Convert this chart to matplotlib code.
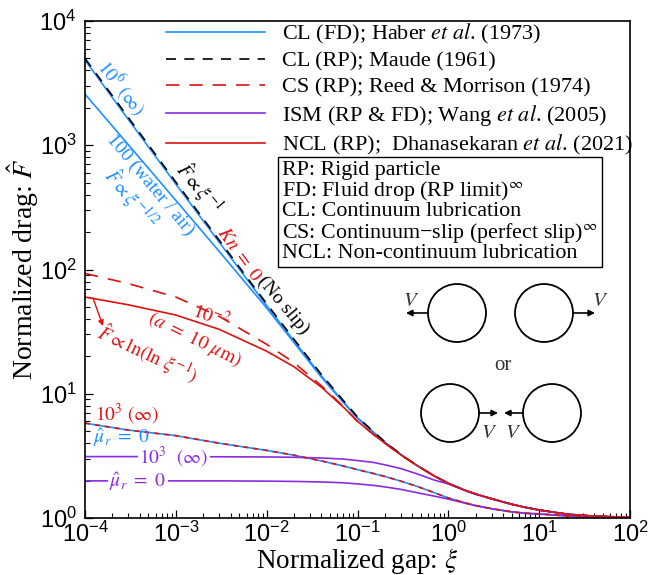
import matplotlib
matplotlib.use('Agg')
import matplotlib.pyplot as plt
from matplotlib.patches import Circle
from matplotlib.lines import Line2D

plt.rcParams['font.family'] = 'Liberation Sans'
plt.rcParams['mathtext.fontset'] = 'stix'

# gap values (normalized) shared by all curves
xi = [1e-4, 3e-4, 1e-3, 3e-3, 1e-2, 2e-2, 4e-2, 0.07, 0.1, 0.15, 0.2, 0.3,
      0.45, 0.7, 1, 1.5, 2, 3, 5, 7, 10, 20, 40, 100]

# CL (RP), Maude (1961)
f_cl_rp = [5000, 1670, 505, 172, 53, 27.4, 14.3, 8.8, 6.5, 4.95, 4.1, 3.25,
           2.65, 2.18, 1.9, 1.68, 1.56, 1.43, 1.29, 1.22, 1.16, 1.075, 1.035, 1.012]
# CL (FD), Haber et al. (1973): mu_r = 1e6, 100, 0
f_fd_1e6 = [4850, 1610, 487, 166, 51.2, 26.6, 13.9, 8.6, 6.4, 4.9, 4.08, 3.25,
            2.65, 2.18, 1.9, 1.68, 1.56, 1.43, 1.29, 1.22, 1.16, 1.075, 1.035, 1.012]
f_fd_100 = [2580, 1010, 360, 140, 49, 25.8, 13.6, 8.5, 6.35, 4.88, 4.07, 3.24,
            2.65, 2.18, 1.9, 1.68, 1.56, 1.43, 1.29, 1.22, 1.16, 1.075, 1.035, 1.012]
f_fd_0 = [5.8, 5.1, 4.6, 4.0, 3.5, 3.2, 2.88, 2.62, 2.45, 2.28, 2.16, 1.98,
          1.8, 1.6, 1.45, 1.33, 1.26, 1.19, 1.12, 1.095, 1.08, 1.04, 1.02, 1.005]
# CS (RP), Reed & Morrison (1974)
f_cs = [93, 77, 60, 42, 25, 17.8, 11.6, 7.9, 6.0, 4.7, 4.0, 3.22,
        2.65, 2.18, 1.9, 1.68, 1.56, 1.43, 1.29, 1.22, 1.16, 1.075, 1.035, 1.012]
# ISM (RP & FD), Wang et al. (2005): mu_r = 1e3, 0
f_ism_1e3 = [3.12, 3.12, 3.12, 3.11, 3.10, 3.08, 3.04, 2.98, 2.90, 2.8, 2.68, 2.5,
             2.27, 2.02, 1.88, 1.67, 1.55, 1.42, 1.285, 1.215, 1.155, 1.073, 1.034, 1.012]
f_ism_0 = [1.99, 1.99, 1.99, 1.99, 1.98, 1.97, 1.95, 1.92, 1.88, 1.83, 1.78, 1.7,
           1.6, 1.5, 1.42, 1.32, 1.255, 1.185, 1.12, 1.09, 1.075, 1.04, 1.02, 1.005]
# NCL (RP), Dhanasekaran et al. (2021): Kn = 1e-2, 1e3
f_ncl_1em2 = [60, 52, 43, 33, 22, 16.5, 11.3, 7.8, 6.0, 4.7, 4.0, 3.22,
              2.65, 2.18, 1.9, 1.68, 1.56, 1.43, 1.29, 1.22, 1.16, 1.075, 1.035, 1.012]
f_ncl_1e3 = f_fd_0

blue = '#1e8fff'
red = '#dd1111'
purple = '#8a2be2'
serif = 'Liberation Serif'

W, H = 648, 575
fig = plt.figure(figsize=(W / 100, H / 100), dpi=100)
ax = fig.add_axes([85 / W, 1 - 518 / H, 545 / W, 497 / H])


def fp(x, y):
    # pixel position (from top-left) -> figure fraction
    return x / W, 1 - y / H


lw = 1.2
ax.plot(xi, f_fd_1e6, color=blue, lw=lw)
ax.plot(xi, f_fd_100, color=blue, lw=lw)
ax.plot(xi, f_fd_0, color=blue, lw=lw)
ax.plot(xi, f_cl_rp, color='k', lw=lw, dashes=(6, 5))
ax.plot(xi, f_cs, color=red, lw=lw, dashes=(8, 6))
ax.plot(xi, f_ism_1e3, color=purple, lw=lw)
ax.plot(xi, f_ism_0, color=purple, lw=lw)
ax.plot(xi, f_ncl_1em2, color=red, lw=lw)
ax.plot(xi, f_ncl_1e3, color=red, lw=lw, dashes=(3, 3))

ax.set_xscale('log')
ax.set_yscale('log')
ax.set_xlim(1e-4, 1e2)
ax.set_ylim(1, 1e4)
ax.tick_params(which='both', direction='in', top=False, right=False)
ax.tick_params(which='major', length=6, width=0.9, labelsize=17)
ax.tick_params(axis='x', which='major', pad=3)
ax.tick_params(axis='y', which='major', pad=6)
ax.tick_params(which='minor', length=3.6, width=0.8)
for s in ax.spines.values():
    s.set_linewidth(1.2)

ax.set_xlabel(r'Normalized gap: $\xi$', family=serif, fontsize=19.5, labelpad=-1)
ax.set_ylabel(r'Normalized drag: $\hat{F}$', family=serif, fontsize=20, labelpad=-1)

handles = [
    Line2D([], [], color=blue, lw=lw),
    Line2D([], [], color='k', lw=lw, dashes=(6, 5)),
    Line2D([], [], color=red, lw=lw, dashes=(8, 6)),
    Line2D([], [], color=purple, lw=lw),
    Line2D([], [], color=red, lw=lw),
]
labels = [
    r'CL (FD); Haber $\it{et\ al}$. (1973)',
    'CL (RP); Maude (1961)',
    'CS (RP); Reed & Morrison (1974)',
    r'ISM (RP & FD); Wang $\it{et\ al}$. (2005)',
    r'NCL (RP);  Dhanasekaran $\it{et\ al}$. (2021)',
]
ax.legend(handles, labels, loc='upper left', bbox_to_anchor=fp(166, 22),
          bbox_transform=fig.transFigure, frameon=False,
          prop={'family': serif, 'size': 16}, handlelength=4.46,
          handletextpad=0.77, labelspacing=0.235, borderpad=0, borderaxespad=0)

defs = ('RP: Rigid particle\n'
        r'FD: Fluid drop (RP limit)$^{\infty}$' '\n'
        'CL: Continuum lubrication\n'
        'CS: Continuum\u2212slip (perfect slip)$^{\\infty}$\n'
        'NCL: Non-continuum lubrication')
fig.text(*fp(282, 161), defs, ha='left', va='top', family=serif, fontsize=15.8,
         linespacing=0.95,
         bbox=dict(boxstyle='square,pad=0.2', fc='white', ec='black', lw=1))

# labels along the curves
def lab(x, y, s, color, rot=0, size=14, **kw):
    fig.text(*fp(x, y), s, color=color, rotation=rot, rotation_mode='anchor',
             ha='center', va='center', family=serif, fontsize=size, **kw)


lab(122, 88, r'$10^6$ $(\infty)$', blue, -52)
lab(150, 185, '100 (water / air)', blue, -50)
lab(131, 198, r'$\hat{F} \propto \xi^{-1/2}$', blue, -50)
lab(199, 188, r'$\hat{F} \propto \xi^{-1}$', 'k', -50)
lab(239, 254, r'$Kn\ =\ 0$', red, -54)
lab(283, 305, '(No slip)', 'k', -50)
lab(211, 316, r'$10^{-2}$', red, -20)
lab(195, 339, r'$(a\ =\ 10\ \mu\mathrm{m})$', red, -26)
lab(148, 354, r'$\hat{F} \propto \ln(\ln\,\xi^{-1})$', red, -25)
lab(127, 414, r'$10^3$ $(\infty)$', red)
lab(122, 438, r'$\hat{\mu}_r\ =\ 0$', blue)
lab(174, 457, r'$10^3$  $(\infty)$', purple,
    bbox=dict(fc='white', ec='none', pad=1))
lab(138, 482, r'$\hat{\mu}_r\ =\ 0$', purple,
    bbox=dict(fc='white', ec='none', pad=1))

ax.annotate('', xy=(103, H - 326), xytext=(93, H - 298),
            xycoords='figure pixels', textcoords='figure pixels',
            arrowprops=dict(arrowstyle='-|>', color=red, lw=1,
                            mutation_scale=8, shrinkA=0, shrinkB=0))

# sketch of the two spheres
sk = fig.add_axes([395 / W, 1 - 450 / H, 215 / W, 170 / H])
sk.set_xlim(395, 610)
sk.set_ylim(450, 280)
sk.axis('off')
for cx, cy in [(457, 313), (544, 313), (450, 413), (552, 413)]:
    sk.add_patch(Circle((cx, cy), 29, fill=False, lw=1.3, ec='k'))
arr = dict(arrowstyle='-|>', color='k', lw=1.2, mutation_scale=9,
           shrinkA=0, shrinkB=0)
sk.annotate('', xy=(406, 313), xytext=(428, 313), arrowprops=arr)
sk.annotate('', xy=(595, 313), xytext=(573, 313), arrowprops=arr)
sk.annotate('', xy=(498, 413), xytext=(479, 413), arrowprops=arr)
sk.annotate('', xy=(504, 413), xytext=(523, 413), arrowprops=arr)
vkw = dict(ha='center', va='center', fontsize=15, color='#333333')
sk.text(411, 300, '$V$', **vkw)
sk.text(600, 300, '$V$', **vkw)
sk.text(489, 432, '$V$', **vkw)
sk.text(513, 432, '$V$', **vkw)
sk.text(503, 365, 'or', ha='center', va='center', fontsize=15,
        family=serif, color='#333333')

fig.savefig('out.png', dpi=100)
